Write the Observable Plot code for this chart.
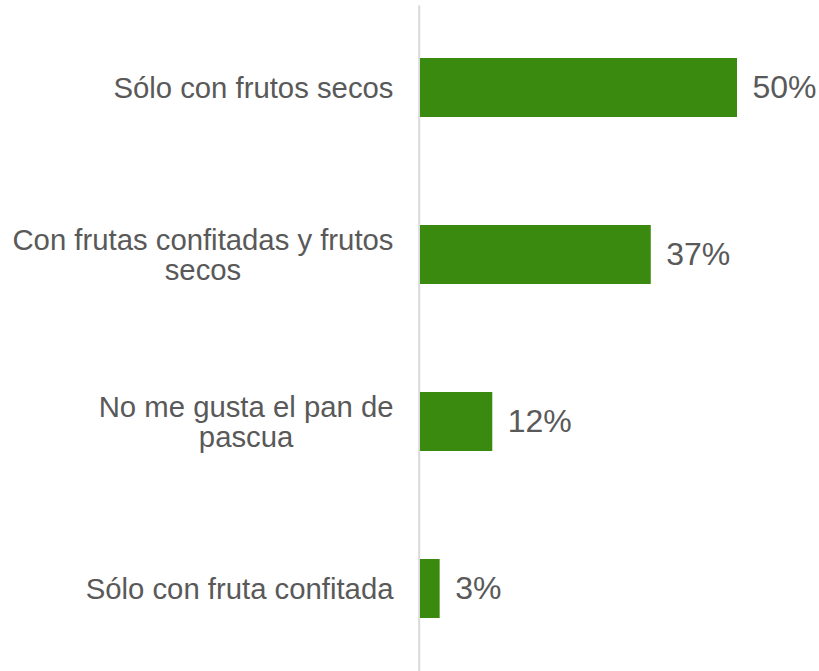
<!DOCTYPE html>
<html><head><meta charset="utf-8">
<script src="https://cdn.jsdelivr.net/npm/d3@7"></script>
<script src="https://cdn.jsdelivr.net/npm/@observablehq/plot@0.6"></script>
<style>body{margin:0;background:#fff;overflow:hidden}</style>
</head><body><div id="chart"></div>
<script>
const categories = ["Sólo con frutos secos", "Con frutas confitadas y frutos secos", "No me gusta el pan de pascua", "Sólo con fruta confitada"];
const tickLabels = ["Sólo con frutos secos", "Con frutas confitadas y frutos\nsecos", "No me gusta el pan de\npascua", "Sólo con fruta confitada"];
const values = [50, 36.4, 11.4, 3.1];
const valueLabels = ["50%", "37%", "12%", "3%"];

const data = categories.map((c, i) => ({category: c, value: values[i], label: valueLabels[i]}));
const tickLabelOf = new Map(categories.map((c, i) => [c, tickLabels[i]]));

const chart = Plot.plot({
  width: 819, height: 671,
  marginLeft: 420, marginRight: 82, marginTop: 5.5, marginBottom: 0,
  style: {fontFamily: "'Liberation Sans', Arial, sans-serif", color: "#595959", background: "#fff"},
  x: {domain: [0, 50], axis: null},
  y: {domain: categories, paddingInner: 0.647, paddingOuter: 0.316, label: null},
  marks: [
    Plot.axisY({tickSize: 0, tickPadding: 27, fontSize: 29.3, lineHeight: 1.02, tickFormat: d => tickLabelOf.get(d), fill: "#595959", label: null}),
    Plot.ruleX([0], {stroke: "#d9d9d9", strokeWidth: 2, dx: -1.3}),
    Plot.barX(data, {x: "value", y: "category", fill: "#3b8a10"}),
    Plot.text(data, {x: "value", y: "category", text: "label", textAnchor: "start", dx: 15, fontSize: 32, fill: "#595959"})
  ]
});
document.getElementById("chart").appendChild(chart);

// center multi-line category labels within their block (right-aligned block)
chart.querySelectorAll('g[aria-label="y-axis tick label"] text').forEach(t => {
  const spans = t.querySelectorAll("tspan");
  if (spans.length > 1) {
    let maxW = 0;
    spans.forEach(s => { maxW = Math.max(maxW, s.getComputedTextLength()); });
    t.setAttribute("text-anchor", "middle");
    spans.forEach(s => s.setAttribute("x", -maxW / 2));
  }
});
</script>
</body></html>
